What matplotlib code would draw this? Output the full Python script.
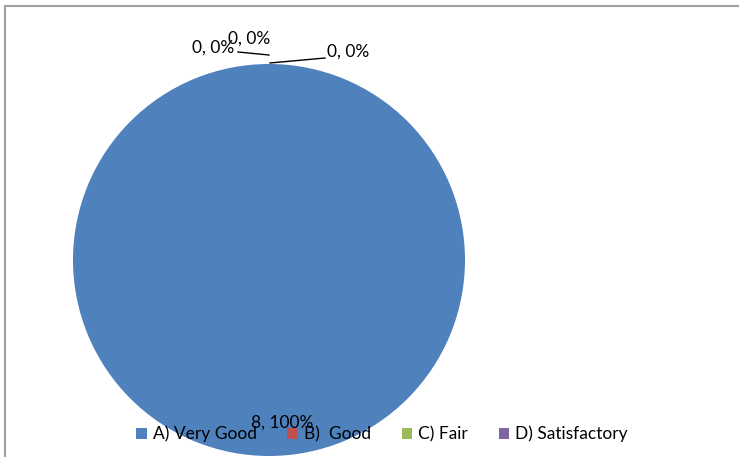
import matplotlib
matplotlib.use("Agg")
import matplotlib.pyplot as plt
from matplotlib.lines import Line2D

categories = ["A) Very Good", "B)  Good", "C) Fair", "D) Satisfactory"]
values = [8, 0, 0, 0]
colors = ["#4F81BD", "#C0504D", "#9BBB59", "#8064A2"]

total = sum(values)
labels = [f"{v}, {round(100 * v / total)}%" for v in values]

W, H = 739, 457
fig = plt.figure(figsize=(W / 100, H / 100), dpi=100)
ax = fig.add_axes([0, 0, 1, 1])

cx, cy, r = 269, H - 260, 196
wedges, _ = ax.pie(values, colors=colors, startangle=90, counterclock=False,
                   center=(cx, cy), radius=r, normalize=True,
                   wedgeprops=dict(linewidth=0))
ax.set_xlim(0, W)
ax.set_ylim(0, H)
ax.set_aspect("auto")
ax.axis("off")

FS = 12.5
font = dict(family=["Lato", "DejaVu Sans"], fontsize=FS, color="#000000")

# main label
ax.text(282, H - 423, labels[0], ha="center", va="center", **font)

# zero-value labels with leader lines at the top
ax.text(213, H - 48, labels[1], ha="center", va="center", **font)
ax.text(249, H - 39, labels[2], ha="center", va="center", **font)
ax.text(348, H - 52, labels[3], ha="center", va="center", **font)
ax.add_line(Line2D([238, 269], [H - 52, H - 55], color="black", lw=1))
ax.add_line(Line2D([270, 325], [H - 63, H - 58], color="black", lw=1))

# chart border (top and left visible)
ax.add_line(Line2D([4.5, W], [H - 6, H - 6], color="#A0A0A0", lw=1.5))
ax.add_line(Line2D([4.5, 4.5], [H - 6, 0], color="#A0A0A0", lw=1.5))

leg = fig.legend(wedges, categories, loc="center", bbox_to_anchor=(382 / W, 1 - 434 / H),
                 ncol=4, frameon=False, handlelength=0.62, handleheight=0.62,
                 handletextpad=0.35, columnspacing=1.75,
                 prop=dict(family=["Lato", "DejaVu Sans"], size=FS))

fig.savefig("out.png", dpi=100)
